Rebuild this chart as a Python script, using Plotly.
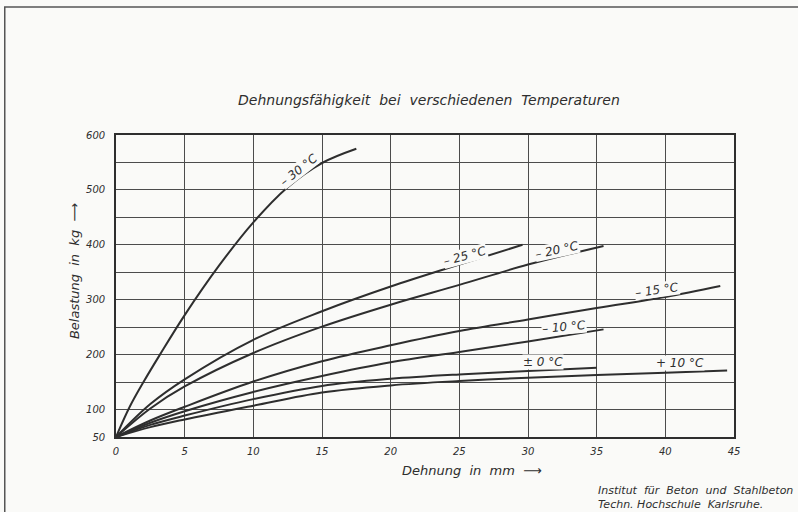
import plotly.graph_objects as go

# Dehnung (mm) und Belastung (kg) je Prüftemperatur
temps = ["– 30 °C", "– 25 °C", "– 20 °C", "– 15 °C", "– 10 °C", "± 0 °C", "+ 10 °C"]

strain_m30 = [0, 1, 2, 3.2, 5, 7.5, 10, 12.5, 15, 17.5]
load_m30 = [50, 105, 150, 200, 272, 362, 441, 505, 549, 575]

strain_m25 = [0, 2.5, 5, 10, 15, 20, 25, 29.6]
load_m25 = [50, 110, 155, 227, 279, 324, 364, 400]

strain_m20 = [0, 2.5, 5, 10, 15, 20, 25, 30, 35.5]
load_m20 = [50, 102, 142, 203, 251, 291, 327, 364, 398]

strain_m15 = [0, 2.5, 5, 10, 15, 20, 25, 30, 35, 40, 44]
load_m15 = [50, 80, 105, 151, 188, 217, 243, 264, 285, 305, 325]

strain_m10 = [0, 2.5, 5, 10, 15, 20, 25, 30, 35.5]
load_m10 = [50, 76, 97, 132, 161, 186, 205, 224, 246]

strain_0 = [0, 2.5, 5, 10, 15, 20, 25, 30, 35]
load_0 = [50, 72, 89, 119, 143, 156, 164, 170, 176]

strain_p10 = [0, 2.5, 5, 10, 15, 20, 25, 30, 35, 40, 44.5]
load_p10 = [50, 68, 82, 107, 131, 144, 152, 158, 163, 167, 171]

x_ticks = [0, 5, 10, 15, 20, 25, 30, 35, 40, 45]
y_grid = [50, 100, 150, 200, 250, 300, 350, 400, 450, 500, 550, 600]
y_labels = ["50", "100", "", "200", "", "300", "", "400", "", "500", "", "600"]

# Beschriftung an den Kurven: (Dehnung, Belastung, Winkel)
label_pos = [
    (13.3, 536, -38),
    (25.4, 380, -15),
    (32.1, 391, -12),
    (39.4, 318, -8),
    (32.6, 251, -5),
    (31.1, 187, 0),
    (41.1, 184, 0),
]

series = [
    (strain_m30, load_m30),
    (strain_m25, load_m25),
    (strain_m20, load_m20),
    (strain_m15, load_m15),
    (strain_m10, load_m10),
    (strain_0, load_0),
    (strain_p10, load_p10),
]

INK = "#2e2e2e"
GRID = "#4c4c4c"
PAPER = "#fafaf8"
FONT = "DejaVu Sans, sans-serif"

fig = go.Figure()
for name, (xs, ys) in zip(temps, series):
    fig.add_trace(go.Scatter(
        x=xs, y=ys, mode="lines", name=name,
        line=dict(color=INK, width=2, shape="spline", smoothing=1.0),
        showlegend=False, hoverinfo="skip",
    ))

for name, (lx, ly, ang) in zip(temps, label_pos):
    fig.add_annotation(
        x=lx, y=ly, text=name, showarrow=False, textangle=ang,
        font=dict(family=FONT, size=12, color=INK, style="italic"),
        bgcolor=PAPER, borderpad=0,
    )

axis_common = dict(
    showgrid=True, gridcolor=GRID, gridwidth=1.3,
    showline=True, linecolor=INK, linewidth=1.6, mirror=True,
    zeroline=False, ticks="",
    tickfont=dict(family=FONT, size=10, color=INK, style="italic"),
)

fig.update_xaxes(
    range=[0, 45], tickvals=x_ticks, ticktext=[str(v) for v in x_ticks],
    ticklabelstandoff=4, **axis_common,
)
fig.update_yaxes(
    range=[50, 600], tickvals=y_grid, ticktext=y_labels,
    ticklabelstandoff=7, **axis_common,
)

# Titel und Achsenbeschriftungen
fig.add_annotation(
    xref="paper", yref="paper", x=0.506, y=1.116, showarrow=False,
    xanchor="center", yanchor="middle",
    text="Dehnungsfähigkeit  bei  verschiedenen  Temperaturen",
    font=dict(family=FONT, size=14, color=INK, style="italic"),
)
fig.add_annotation(
    xref="paper", yref="paper", x=-0.066, y=0.55, showarrow=False,
    xanchor="center", yanchor="middle",
    text="Belastung  in  kg  ⟶", textangle=-90,
    font=dict(family=FONT, size=13, color=INK, style="italic"),
)
fig.add_annotation(
    xref="paper", yref="paper", x=0.576, y=-0.11, showarrow=False,
    xanchor="center", yanchor="middle",
    text="Dehnung  in  mm  ⟶",
    font=dict(family=FONT, size=13, color=INK, style="italic"),
)
fig.add_annotation(
    xref="paper", yref="paper", x=1.099, y=-0.199, showarrow=False,
    xanchor="right", yanchor="middle", align="left",
    text="Institut  für  Beton  und  Stahlbeton<br>Techn. Hochschule  Karlsruhe.",
    font=dict(family=FONT, size=11, color=INK, style="italic"),
)

# Blattrahmen
fig.add_shape(
    type="rect", xref="paper", yref="paper",
    x0=-0.18, y0=-0.4, x1=1.2, y1=1.424,
    line=dict(color="#555555", width=1.5),
)

fig.update_layout(
    width=798, height=512,
    margin=dict(l=116, r=64, t=135, b=75),
    paper_bgcolor=PAPER, plot_bgcolor=PAPER,
)

fig.write_html("out.html")
